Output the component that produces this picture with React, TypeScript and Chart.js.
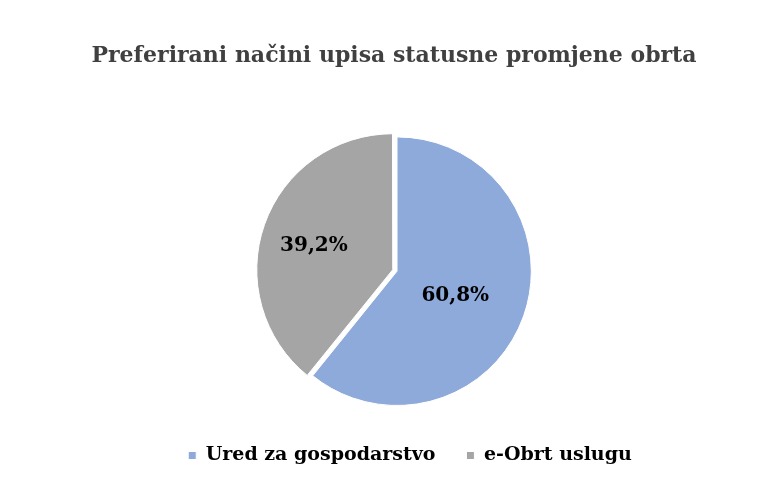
import React, { useEffect, useRef } from "react";
import { Chart, registerables } from "chart.js";
Chart.register(...registerables);

const chartTitle = "Preferirani načini upisa statusne promjene obrta";
const categories = ["Ured za gospodarstvo", "e-Obrt uslugu"];
const values = [60.8, 39.2];
const valueLabels = ["60,8%", "39,2%"];
const colors = ["#8EAADB", "#A5A5A5"];
const sliceOffsets = [0, 18];

const FONT = "'DejaVu Serif', 'Liberation Serif', serif";
const labelRadiusFactors = [0.46, 0.61];
const LEGEND_SHIFT_X = 13;
const TITLE_SHIFT_X = -3;

const sliceLabelPlugin = {
  id: "sliceLabels",
  afterLayout(chart: any) {
    if (chart.legend) {
      chart.legend.left += LEGEND_SHIFT_X * 2;
      chart.legend.right += 0;
    }
    if (chart.titleBlock) {
      chart.titleBlock.left += TITLE_SHIFT_X;
      chart.titleBlock.right += TITLE_SHIFT_X;
    }
  },
  afterDatasetsDraw(chart: any) {
    const meta = chart.getDatasetMeta(0);
    const ctx = chart.ctx;
    ctx.save();
    ctx.font = `bold 20px ${FONT}`;
    ctx.fillStyle = "#000000";
    ctx.textAlign = "center";
    ctx.textBaseline = "middle";
    meta.data.forEach((arc: any, i: number) => {
      const { x, y, startAngle, endAngle, outerRadius, circumference } = arc.getProps(
        ["x", "y", "startAngle", "endAngle", "outerRadius", "circumference"],
        true
      );
      const mid = (startAngle + endAngle) / 2;
      const o = ((arc.options && arc.options.offset) || 0) / 4;
      const fix = 1 - Math.sin(Math.min(Math.PI, circumference || 0));
      const shift = o + o * fix;
      const r = outerRadius * labelRadiusFactors[i] + shift;
      ctx.fillText(valueLabels[i], x + Math.cos(mid) * r, y + Math.sin(mid) * r + 4);
    });
    ctx.restore();
  },
};

export default function App() {
  const ref = useRef<HTMLCanvasElement | null>(null);
  useEffect(() => {
    document.body.style.margin = "0";
    if (!ref.current) return;
    const chart = new Chart(ref.current, {
      type: "pie",
      data: {
        labels: categories,
        datasets: [
          {
            data: values,
            backgroundColor: colors,
            borderColor: "#ffffff",
            borderWidth: 1,
            offset: sliceOffsets,
          },
        ],
      },
      options: {
        animation: false,
        responsive: true,
        maintainAspectRatio: false,
        layout: { padding: { left: 24, right: 0, top: 0, bottom: 16 } },
        plugins: {
          title: {
            display: true,
            text: chartTitle,
            color: "#404040",
            font: { family: FONT, size: 22, weight: "bold" },
            padding: { top: 43, bottom: 58 },
          },
          legend: {
            position: "bottom",
            labels: {
              boxWidth: 8,
              boxHeight: 8,
              padding: 31,
              color: "#000000",
              font: { family: FONT, size: 19, weight: "bold" },
            },
          },
          tooltip: { enabled: false },
        },
      },
      plugins: [sliceLabelPlugin],
    } as any);
    return () => chart.destroy();
  }, []);
  return (
    <div style={{ width: 770, height: 491, position: "relative" }}>
      <canvas ref={ref} />
    </div>
  );
}
